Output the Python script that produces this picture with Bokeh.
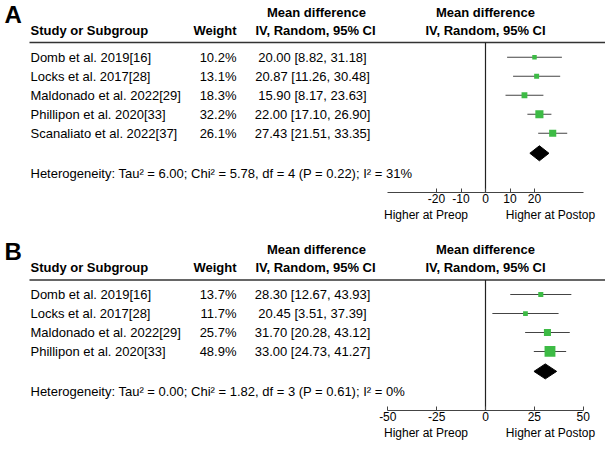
from bokeh.plotting import figure
from bokeh.models import Range1d, LinearAxis, FixedTicker
from bokeh.layouts import column
from bokeh.core.properties import value
from bokeh.embed import file_html
from bokeh.resources import INLINE

# ---------------- data: panel A ----------------
studies_a = ["Domb et al. 2019[16]", "Locks et al. 2017[28]", "Maldonado et al. 2022[29]",
             "Phillipon et al. 2020[33]", "Scanaliato et al. 2022[37]"]
weights_a = [10.2, 13.1, 18.3, 32.2, 26.1]
md_a = [20.00, 20.87, 15.90, 22.00, 27.43]
lo_a = [8.82, 11.26, 8.17, 17.10, 21.51]
hi_a = [31.18, 30.48, 23.63, 26.90, 33.35]
pooled_a = [18.1, 22.0, 25.9]   # lower, estimate, upper (diamond)
het_a = "Heterogeneity: Tau\u00b2 = 6.00; Chi\u00b2 = 5.78, df = 4 (P = 0.22); I\u00b2 = 31%"
ticks_a = [-20, -10, 0, 10, 20]
tick_labels_a = ["-20", "-10", "0", "10", "20"]
bounds_a = (-40, 40)

# ---------------- data: panel B ----------------
studies_b = ["Domb et al. 2019[16]", "Locks et al. 2017[28]", "Maldonado et al. 2022[29]",
             "Phillipon et al. 2020[33]"]
weights_b = [13.7, 11.7, 25.7, 48.9]
md_b = [28.30, 20.45, 31.70, 33.00]
lo_b = [12.67, 3.51, 20.28, 24.73]
hi_b = [43.93, 37.39, 43.12, 41.27]
pooled_b = [24.8, 30.6, 36.4]
het_b = "Heterogeneity: Tau\u00b2 = 0.00; Chi\u00b2 = 1.82, df = 3 (P = 0.61); I\u00b2 = 0%"
ticks_b = [-50, -25, 0, 25, 50]
tick_labels_b = ["-50", "-25", "0", "25", "50"]
bounds_b = (-50, 50)

favours = ["Higher at Preop", "Higher at Postop"]
col_header_top = "Mean difference"
col_header = ["Study or Subgroup", "Weight", "IV, Random, 95% CI", "IV, Random, 95% CI"]

# ---------------- style ----------------
FONT = "Liberation Sans"
GREEN = "#3dbb45"
LINE = "#333333"
ZERO_X = 485.0          # layout position of the zero line
W = 605
X0, X1 = 0, W           # layout units covered by the frame
BORDER_B = 39


def panel(letter, studies, weights, md, lo, hi, pooled, het, ticks, tick_labels,
          bounds, px_per_unit, line_y, frame_top, height):
    n = len(studies)
    rows_y = [line_y + 14.7 + 19.0 * i for i in range(n)]
    diamond_y = line_y + 14.7 + 19.0 * n + 1.0
    het_y = diamond_y + 19.8
    axis_y = het_y + 19.4

    p = figure(width=W, height=height, x_range=Range1d(X0, X1),
               y_range=Range1d(axis_y, frame_top), x_axis_type=None, y_axis_type=None,
               output_backend="svg", toolbar_location=None,
               min_border_left=0, min_border_right=0, min_border_top=0,
               min_border_bottom=BORDER_B, outline_line_color=None)
    p.grid.visible = False
    p.extra_x_ranges = {"md": Range1d((X0 - ZERO_X) / px_per_unit, (X1 - ZERO_X) / px_per_unit)}

    f = value(FONT)
    # panel letter
    p.text(x=[4], y=[line_y - 28], text=[letter], text_font=f, text_font_size="24px",
           text_font_style="bold", text_baseline="middle", text_align="left", text_color="black")
    # headers
    p.text(x=[316], y=[line_y - 30.3], text=[col_header_top], text_font=f, text_font_size="13px",
           text_font_style="bold", text_baseline="middle", text_align="center", text_color="black")
    p.text(x=[0], y=[line_y - 30.3], text=[col_header_top], text_font=f, text_font_size="13px",
           text_font_style="bold", text_baseline="middle", text_align="center", text_color="black",
           x_range_name="md")
    p.text(x=[30], y=[line_y - 12], text=[col_header[0]], text_font=f, text_font_size="13px",
           text_font_style="bold", text_baseline="middle", text_align="left", text_color="black")
    p.text(x=[236], y=[line_y - 12], text=[col_header[1]], text_font=f, text_font_size="13px",
           text_font_style="bold", text_baseline="middle", text_align="right", text_color="black")
    p.text(x=[315], y=[line_y - 12], text=[col_header[2]], text_font=f, text_font_size="13px",
           text_font_style="bold", text_baseline="middle", text_align="center", text_color="black")
    p.text(x=[0], y=[line_y - 12], text=[col_header[3]], text_font=f, text_font_size="13px",
           text_font_style="bold", text_baseline="middle", text_align="center", text_color="black",
           x_range_name="md")
    p.segment(x0=[29], x1=[X1], y0=[line_y], y1=[line_y], line_color=LINE, line_width=1.5)

    # study rows
    wtxt = ["%.1f%%" % w for w in weights]
    citxt = ["%.2f [%.2f, %.2f]" % (m, a, b) for m, a, b in zip(md, lo, hi)]
    p.text(x=[30] * n, y=rows_y, text=studies, text_font=f, text_font_size="13px",
           text_baseline="middle", text_align="left", text_color="black")
    p.text(x=[236] * n, y=rows_y, text=wtxt, text_font=f, text_font_size="13px",
           text_baseline="middle", text_align="right", text_color="black")
    p.text(x=[312] * n, y=rows_y, text=citxt, text_font=f, text_font_size="13px",
           text_baseline="middle", text_align="center", text_color="black")
    p.text(x=[30], y=[het_y], text=[het], text_font=f, text_font_size="13px",
           text_baseline="middle", text_align="left", text_color="black")

    # zero line
    p.segment(x0=[0], x1=[0], y0=[line_y], y1=[axis_y], line_color="#222222", line_width=1.2,
              x_range_name="md")
    # CIs and squares
    p.segment(x0=lo, x1=hi, y0=rows_y, y1=rows_y, line_color="#444444", line_width=1.1,
              x_range_name="md")
    sizes = [2.8 + 0.165 * w for w in weights]
    p.scatter(x=md, y=rows_y, size=sizes, marker="square", fill_color=GREEN, line_color=None,
              x_range_name="md")
    # pooled diamond
    p.patch(x=[pooled[0], pooled[1], pooled[2], pooled[1]],
            y=[diamond_y, diamond_y - 7.5, diamond_y, diamond_y + 7.5],
            fill_color="black", line_color="black", line_width=1, x_range_name="md")

    # effect axis
    ax = LinearAxis(x_range_name="md", ticker=FixedTicker(ticks=ticks, minor_ticks=[]),
                    bounds=bounds)
    ax.major_label_overrides = {t: s for t, s in zip(ticks, tick_labels)}
    ax.major_tick_in = 4
    ax.major_tick_out = 0
    ax.minor_tick_in = 0
    ax.minor_tick_out = 0
    ax.axis_line_color = "#444444"
    ax.axis_line_width = 1.2
    ax.major_tick_line_color = "#444444"
    ax.major_label_text_font = FONT
    ax.major_label_text_font_size = "12px"
    ax.major_label_text_color = "black"
    ax.major_label_standoff = 1
    p.add_layout(ax, "below")

    # favours labels
    fav_pos = [425.5, 550.0]
    lab = LinearAxis(ticker=FixedTicker(ticks=fav_pos, minor_ticks=[]))
    lab.major_label_overrides = {t: s for t, s in zip(fav_pos, favours)}
    lab.axis_line_color = None
    lab.major_tick_line_color = None
    lab.minor_tick_line_color = None
    lab.major_tick_in = 0
    lab.major_tick_out = 0
    lab.major_label_text_font = FONT
    lab.major_label_text_font_size = "12px"
    lab.major_label_text_color = "black"
    lab.major_label_standoff = 2
    p.add_layout(lab, "below")
    return p


H_A = 231
H_B = 449 - H_A
pa = panel("A", studies_a, weights_a, md_a, lo_a, hi_a, pooled_a, het_a, ticks_a, tick_labels_a,
           bounds_a, 2.45, 42.0, 0.0, H_A)
pb = panel("B", studies_b, weights_b, md_b, lo_b, hi_b, pooled_b, het_b, ticks_b, tick_labels_b,
           bounds_b, 1.954, 281.5, 233.0, H_B)

layout = column(pa, pb, spacing=0)
open("out.html", "w").write(file_html(layout, INLINE))
